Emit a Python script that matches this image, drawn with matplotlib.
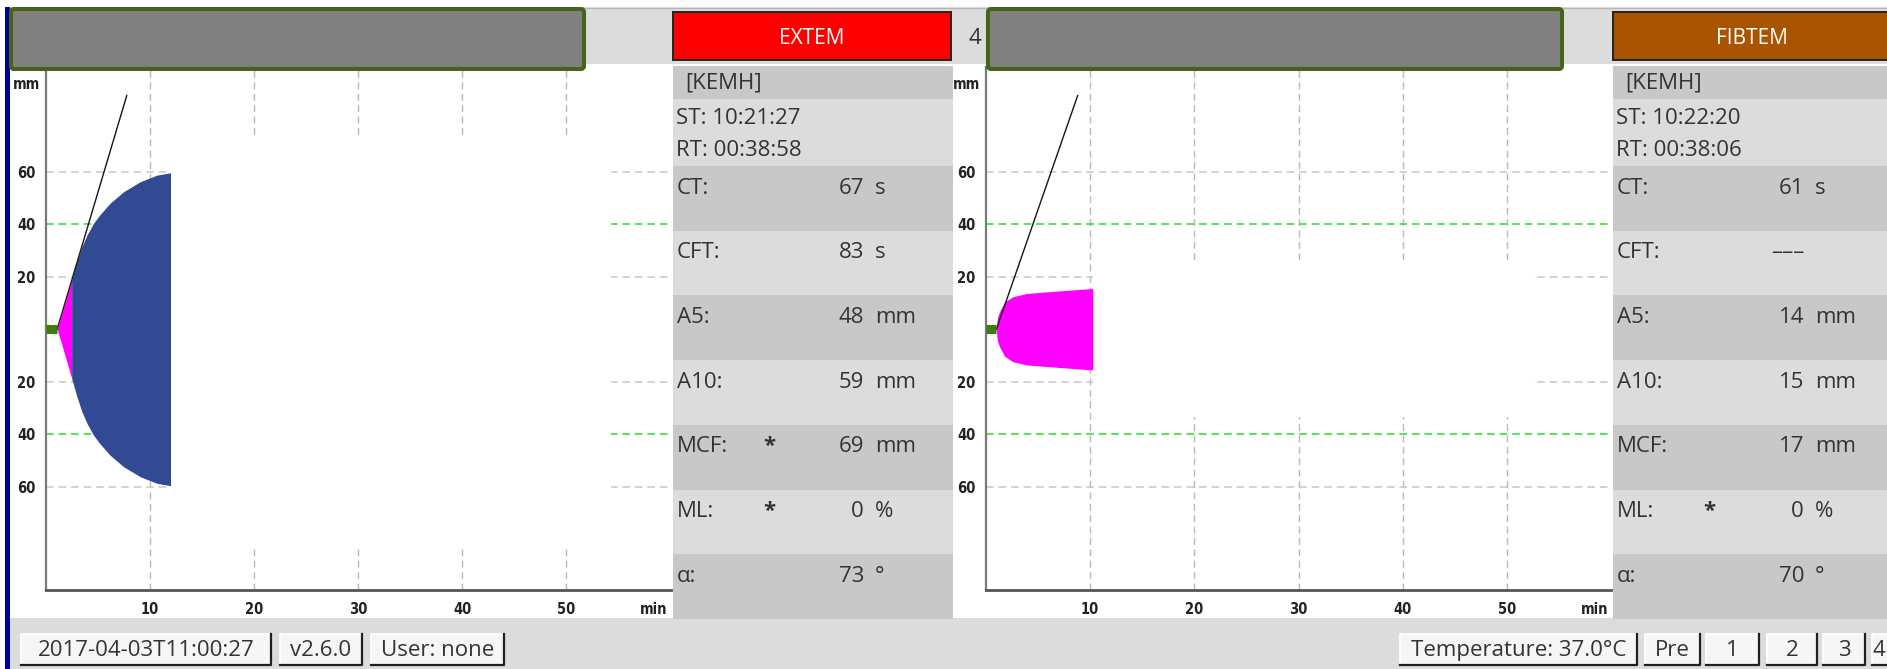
import numpy as np
import matplotlib
matplotlib.use("Agg")
import matplotlib.pyplot as plt
from matplotlib.patches import Rectangle, FancyBboxPatch
from matplotlib import font_manager

W, H = 1887, 669

# ---- datos ----
# EXTEM: amplitud (mm) frente a tiempo (min)
ext_t = [1.12, 1.5, 2.0, 2.51, 3.0, 3.5, 4.0, 4.6, 5.2, 6.2, 7.5, 9.1, 10.7, 12.0]
ext_amp = [0, 5, 11.7, 18.7, 25.5, 31.5, 36, 40.3, 43.5, 48, 52.4, 56.2, 58.7, 59.6]
ext_cft_end = 2.51
ext_tangent_t = [1.12, 7.8]
ext_tangent_mm = [0, 89]

# FIBTEM
fib_t = [1.0, 1.05, 1.12, 1.35, 1.8, 2.6, 3.9, 5.8, 8.1, 10.25]
fib_amp = [0, 3.0, 4.8, 7.1, 10.4, 12.4, 13.6, 14.2, 14.9, 15.5]
fib_cft_end = 10.25
fib_tangent_t = [1.0, 8.8]
fib_tangent_mm = [0, 89]

x_ticks = [10, 20, 30, 40, 50]
y_ticks = [-60, -40, -20, 20, 40, 60]

ext_info = ["[KEMH]", "ST: 10:21:27", "RT: 00:38:58"]
ext_rows = [("CT:", "", "67", "s"), ("CFT:", "", "83", "s"), ("A5:", "", "48", "mm"),
            ("A10:", "", "59", "mm"), ("MCF:", "*", "69", "mm"), ("ML:", "*", "0", "%"),
            ("α:", "", "73", "°")]
fib_info = ["[KEMH]", "ST: 10:22:20", "RT: 00:38:06"]
fib_rows = [("CT:", "", "61", "s"), ("CFT:", "", "–––", ""), ("A5:", "", "14", "mm"),
            ("A10:", "", "15", "mm"), ("MCF:", "", "17", "mm"), ("ML:", "*", "0", "%"),
            ("α:", "", "70", "°")]

left_buttons = ["2017-04-03T11:00:27", "v2.6.0", "User: none"]
right_buttons = ["Temperature: 37.0°C", "Pre", "1", "2", "3", "4"]

# ---- estilo ----
UI_FONT = "Open Sans"
fonts = font_manager.fontManager.ttflist
names = {f.name for f in fonts}
if "Liberation Sans Narrow" in names:
    TICK_FONT, TICK_STRETCH = "Liberation Sans Narrow", "normal"
else:
    TICK_FONT = "DejaVu Sans"
    cond = any(f.name == "DejaVu Sans" and f.stretch in ("condensed", "semi-condensed")
               for f in fonts)
    TICK_STRETCH = "condensed" if cond else "normal"
TXT = "#333333"
LIGHT = "#dcdcdc"
DARK = "#c8c8c8"
BLUE = "#324a94"
MAGENTA = "#ff00ff"


def px_axes(fig, left, top, right, bottom, **kw):
    return fig.add_axes([left / W, 1 - bottom / H, (right - left) / W, (bottom - top) / H], **kw)


def draw_curve(ax, t, amp, cft_end, tan_t, tan_mm, mask):
    t = np.asarray(t, dtype=float)
    amp = np.asarray(amp, dtype=float)
    ax.set_xlim(0, 60)
    ax.set_ylim(-99.5, 100)
    ax.set_facecolor("white")

    # rejilla
    for x in x_ticks:
        ax.axvline(x, color="#b8b8b8", lw=1.0, dashes=(5, 3.2), zorder=1)
    for y in y_ticks:
        col = "#22e022" if abs(y) == 40 else "#c8c8c8"
        ax.axhline(y, color=col, lw=1.1, dashes=(5, 3.2), zorder=1)

    # zona en blanco que tapa la rejilla
    x0, x1, y0, y1 = mask
    ax.add_patch(Rectangle((x0, y0), x1 - x0, y1 - y0, fc="white", ec="none", zorder=2))

    ax.fill_between(t, -amp, amp, where=t <= cft_end, color=MAGENTA, lw=0, zorder=3)
    if cft_end < t[-1]:
        ax.fill_between(t, -amp, amp, where=t >= cft_end, color=BLUE, lw=0, zorder=3)
    ax.plot(tan_t, tan_mm, color="#151515", lw=1.0, zorder=4)
    ax.plot([0, t[0]], [0, 0], color="#3c7d0c", lw=6.5, solid_capstyle="butt",
            zorder=4, clip_on=False)

    for s in ["top", "right"]:
        ax.spines[s].set_visible(False)
    ax.spines["left"].set_color("#7a7a7a")
    ax.spines["left"].set_linewidth(1.6)
    ax.spines["bottom"].set_color("#555555")
    ax.spines["bottom"].set_linewidth(2.0)

    ax.set_xticks(x_ticks + [58.4])
    ax.set_xticklabels([str(v) for v in x_ticks] + ["min"])
    ax.set_yticks(y_ticks + [93.8])
    ax.set_yticklabels([str(abs(v)) for v in y_ticks] + ["mm"])
    ax.tick_params(axis="x", length=0, pad=8, labelsize=10.5, labelcolor="#222")
    ax.tick_params(axis="y", length=0, pad=14, labelsize=10.5, labelcolor="#222")
    for lbl in ax.get_xticklabels() + ax.get_yticklabels():
        lbl.set_fontfamily(TICK_FONT)
        lbl.set_fontstretch(TICK_STRETCH)
        lbl.set_fontweight("bold")
    for lbl in ax.get_yticklabels():
        lbl.set_ha("center")


def draw_panel(bg, x, info, rows):
    bg.add_patch(Rectangle((x, 66), 280, 33, fc=DARK, ec="none"))
    bg.add_patch(Rectangle((x, 99), 280, 67, fc=LIGHT, ec="none"))
    bg.text(x + 12, 83, info[0], fontsize=16, color=TXT, va="center", family=UI_FONT)
    bg.text(x + 3, 118, info[1], fontsize=16, color=TXT, va="center", family=UI_FONT)
    bg.text(x + 3, 150, info[2], fontsize=16, color=TXT, va="center", family=UI_FONT)
    top = 166
    step = (619 - 166) / len(rows)
    for i, (lab, star, val, unit) in enumerate(rows):
        y0 = top + i * step
        bg.add_patch(Rectangle((x, y0), 280, step, fc=DARK if i % 2 == 0 else LIGHT, ec="none"))
        yc = y0 + 22
        bg.text(x + 4, yc, lab, fontsize=16, color=TXT, va="center", family=UI_FONT)
        if star:
            bg.text(x + 96, yc, star, fontsize=16, color=TXT, va="center", ha="center",
                    family=UI_FONT, fontweight="bold")
        bg.text(x + 191, yc, val, fontsize=16, color=TXT, va="center", ha="right", family=UI_FONT)
        if unit:
            bg.text(x + 202, yc, unit, fontsize=16, color=TXT, va="center", family=UI_FONT)


def draw_button(ov, x0, x1, label, tx=None):
    y0, y1 = 634, 665
    ov.add_patch(Rectangle((x0, y0), x1 - x0, y1 - y0, fc="#f6f6f6", ec="none"))
    ov.plot([x0, x0, x1], [y1, y0, y0], color="white", lw=1.2)
    ov.plot([x1, x1, x0], [y0, y1, y1], color="#202020", lw=1.6)
    if tx is None:
        tx = (x0 + x1) / 2
    ov.text(tx, (y0 + y1) / 2 + 1, label, fontsize=16, color=TXT,
            ha="center", va="center", family=UI_FONT)


fig = plt.figure(figsize=(W / 100, H / 100), dpi=100)
fig.patch.set_facecolor("white")

# fondo
bg = px_axes(fig, 0, 0, W, H, zorder=0)
bg.set_xlim(0, W)
bg.set_ylim(H, 0)
bg.axis("off")
bg.add_patch(Rectangle((10, 7), W - 10, 57, fc=LIGHT, ec="none"))
bg.plot([10, W], [7.5, 7.5], color="#b5b5b5", lw=0.8)
bg.add_patch(Rectangle((10, 618), W - 10, H - 618, fc=LIGHT, ec="none"))
bg.add_patch(Rectangle((5, 7), 5, H - 7, fc="#00009a", ec="none"))
bg.text(975, 38, "4", fontsize=16, color=TXT, ha="center", va="center", family=UI_FONT)
draw_panel(bg, 673, ext_info, ext_rows)
draw_panel(bg, 1613, fib_info, fib_rows)

# gráficos
ax1 = px_axes(fig, 45.5, 66.7, 670.5, 590.4, zorder=1)
draw_curve(ax1, ext_t, ext_amp, ext_cft_end, ext_tangent_t, ext_tangent_mm,
           (12.0, 54.3, -82.2, 74.0))
ax2 = px_axes(fig, 986, 66.7, 1611, 590.4, zorder=1)
draw_curve(ax2, fib_t, fib_amp, fib_cft_end, fib_tangent_t, fib_tangent_mm,
           (10.25, 52.4, -33.4, 26.4))

# capa superior: cabeceras y botones
ov = px_axes(fig, 0, 0, W, H, zorder=2)
ov.set_xlim(0, W)
ov.set_ylim(H, 0)
ov.axis("off")
ov.patch.set_alpha(0)
for hx0, hx1 in [(11, 584), (988, 1562)]:
    ov.add_patch(FancyBboxPatch((hx0, 9), hx1 - hx0, 60, boxstyle="round,pad=0,rounding_size=3",
                                fc="#808080", ec="#45641a", lw=2.9))
ov.add_patch(Rectangle((673, 12), 278, 48, fc="#ff0000", ec="#222222", lw=1.4))
ov.text(812, 38, "EXTEM", fontsize=15, color="white", ha="center", va="center", family=UI_FONT)
ov.add_patch(Rectangle((1613, 12), 280, 48, fc="#a85400", ec="#222222", lw=1.4))
ov.text(1752, 38, "FIBTEM", fontsize=15, color="white", ha="center", va="center", family=UI_FONT)

left_pos = [(21, 271), (280, 362), (371, 504)]
right_pos = [(1400, 1637), (1645, 1700), (1706, 1759), (1767, 1817), (1823, 1865), (1872, 1900)]
for (bx0, bx1), lab in zip(left_pos + right_pos, left_buttons + right_buttons):
    draw_button(ov, bx0, bx1, lab, tx=1879 if lab == "4" and bx0 > 1800 else None)

fig.savefig("out.png", dpi=100)
